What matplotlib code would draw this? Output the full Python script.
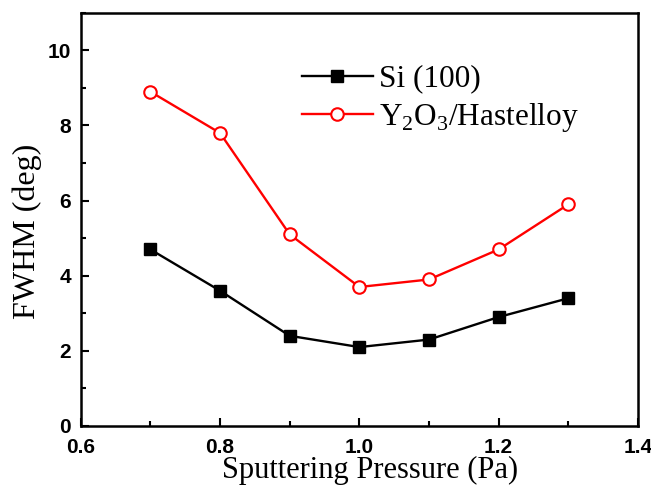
import matplotlib.pyplot as plt
from matplotlib.ticker import MultipleLocator

# Datos
presion = [0.7, 0.8, 0.9, 1.0, 1.1, 1.2, 1.3]
fwhm_si = [4.7, 3.6, 2.4, 2.1, 2.3, 2.9, 3.4]
fwhm_y2o3 = [8.9, 7.8, 5.1, 3.7, 3.9, 4.7, 5.9]

plt.rcParams['mathtext.fontset'] = 'custom'
plt.rcParams['mathtext.rm'] = 'Liberation Serif'

fig = plt.figure(figsize=(6.51, 4.93), dpi=100)
ax = fig.add_axes([0.124, 0.136, 0.856, 0.838])

ax.plot(presion, fwhm_si, color='black', lw=1.7, marker='s', ms=8.5,
        label='Si (100)')
ax.plot(presion, fwhm_y2o3, color='red', lw=1.7, marker='o', ms=9,
        markerfacecolor='white', markeredgecolor='red', markeredgewidth=1.5,
        label=r'Y$_2$O$_3$/Hastelloy')

ax.set_xlim(0.6, 1.4)
ax.set_ylim(0, 11)
ax.xaxis.set_minor_locator(MultipleLocator(0.1))
ax.yaxis.set_minor_locator(MultipleLocator(1))
ax.set_xticks([0.6, 0.8, 1.0, 1.2, 1.4])
ax.set_xticklabels(['0.6', '0.8', '1.0', '1.2', '1.4'])
ax.set_yticks([0, 2, 4, 6, 8, 10])

ax.tick_params(which='both', direction='in', top=False, right=False, width=1.5)
ax.tick_params(which='major', length=6, labelsize=15)
ax.tick_params(axis='y', which='major', pad=7)
ax.tick_params(axis='x', which='major', pad=9)
ax.tick_params(which='minor', length=3.5)
for lab in ax.get_xticklabels() + ax.get_yticklabels():
    lab.set_fontfamily('Liberation Sans')
    lab.set_fontweight('bold')
for s in ax.spines.values():
    s.set_linewidth(1.8)

ax.set_xlabel('Sputtering Pressure (Pa)', family='Liberation Serif', fontsize=22)
ax.xaxis.set_label_coords(0.519, -0.072, transform=ax.transAxes)
ax.xaxis.label.set_va('top')
ax.set_ylabel('FWHM (deg)', family='Liberation Serif', fontsize=23)
ax.yaxis.set_label_coords(-0.122, 0.47, transform=ax.transAxes)
ax.yaxis.label.set_va('top')

leg = ax.legend(loc='upper left', bbox_to_anchor=(0.397, 0.875), frameon=False,
                prop={'family': 'Liberation Serif', 'size': 22.5},
                handlelength=2.27, handletextpad=0.2, labelspacing=0.25,
                borderaxespad=0, borderpad=0)

fig.savefig('out.png', dpi=100)
